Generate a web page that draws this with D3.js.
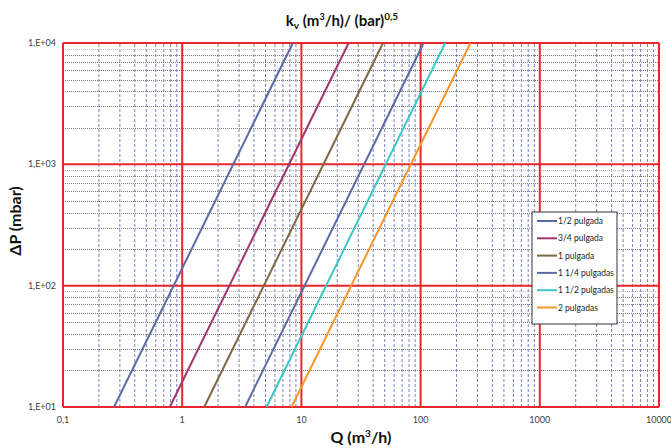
<!DOCTYPE html>
<html>
<head>
<meta charset="utf-8">
<script src="https://cdn.jsdelivr.net/npm/d3@7"></script>
<style>
  body { margin: 0; background: #fff; }
  svg { font-family: Lato, "Open Sans", sans-serif; }
</style>
</head>
<body>
<svg id="chart" width="671" height="448"></svg>
<script>
// series: Q (m3/h) at 10 mbar and at 10000 mbar
const seriesNames = ["1/2 pulgada", "3/4 pulgada", "1 pulgada", "1 1/4 pulgadas", "1 1/2 pulgadas", "2 pulgadas"];
const seriesColors = ["#5e6aa6", "#a0376f", "#7e6845", "#5e6aa6", "#3ec6c8", "#f7962c"];
const dpEnds = [10, 10000];
const qAtLow = [0.268, 0.787, 1.53, 3.37, 5.10, 8.27];
const qAtHigh = [8.48, 24.9, 48.4, 106, 161, 262];

const xTicks = [0.1, 1, 10, 100, 1000, 10000];
const xTickLabels = ["0,1", "1", "10", "100", "1000", "10000"];
const yTicks = [10, 100, 1000, 10000];
const yTickLabels = ["1,E+01", "1,E+02", "1,E+03", "1,E+04"];

const svg = d3.select("svg#chart");
const margin = { left: 63, right: 12, top: 43, bottom: 41 };
const width = 671, height = 448;

const x = d3.scaleLog().domain([0.1, 10000]).range([margin.left, width - margin.right]);
const y = d3.scaleLog().domain([10, 10000]).range([height - margin.bottom, margin.top]);

// minor values inside each decade
const minor = (lo, hi) => {
  const out = [];
  for (let d = lo; d < hi; d *= 10) for (let k = 2; k <= 9; k++) out.push(d * k);
  return out;
};

const grid = svg.append("g");
grid.selectAll("line.vminor")
  .data(minor(0.1, 10000))
  .join("line")
  .attr("x1", d => x(d)).attr("x2", d => x(d))
  .attr("y1", y(10)).attr("y2", y(10000))
  .attr("stroke", "#7b84bb")
  .attr("stroke-width", 1)
  .attr("stroke-dasharray", "3,2");

grid.selectAll("line.hminor")
  .data(minor(10, 10000))
  .join("line")
  .attr("x1", x(0.1)).attr("x2", x(10000))
  .attr("y1", d => Math.round(y(d)) + 0.5).attr("y2", d => Math.round(y(d)) + 0.5)
  .attr("stroke", d => (String(d)[0] === "9" ? "#bbbbbb" : "#7a7a7a"))
  .attr("stroke-width", 1)
  .attr("stroke-dasharray", "1,1");

grid.selectAll("line.vmajor")
  .data(xTicks)
  .join("line")
  .attr("x1", d => x(d)).attr("x2", d => x(d))
  .attr("y1", y(10)).attr("y2", y(10000))
  .attr("stroke", "#e8262b")
  .attr("stroke-width", 2);

grid.selectAll("line.hmajor")
  .data(yTicks)
  .join("line")
  .attr("x1", x(0.1)).attr("x2", x(10000))
  .attr("y1", d => y(d)).attr("y2", d => y(d))
  .attr("stroke", "#e8262b")
  .attr("stroke-width", 2);

// tick labels
svg.append("g")
  .selectAll("text")
  .data(xTicks)
  .join("text")
  .attr("x", d => x(d))
  .attr("y", 423)
  .attr("text-anchor", "middle")
  .attr("font-size", 9)
  .attr("fill", "#404040")
  .text((d, i) => xTickLabels[i]);

svg.append("g")
  .selectAll("text")
  .data(yTicks)
  .join("text")
  .attr("x", 56)
  .attr("y", d => y(d) + 3)
  .attr("text-anchor", "end")
  .attr("font-size", 9)
  .attr("fill", "#404040")
  .text((d, i) => yTickLabels[i]);

// series lines
const series = seriesNames.map((name, i) => ({
  name,
  color: seriesColors[i],
  points: [[qAtLow[i], dpEnds[0]], [qAtHigh[i], dpEnds[1]]]
}));

const line = d3.line().x(d => x(d[0])).y(d => y(d[1]));

svg.append("g")
  .selectAll("path")
  .data(series)
  .join("path")
  .attr("d", d => line(d.points))
  .attr("fill", "none")
  .attr("stroke", d => d.color)
  .attr("stroke-width", 2);

// legend
const legend = svg.append("g").attr("transform", "translate(532,212)");
legend.append("rect")
  .attr("width", 85).attr("height", 112)
  .attr("fill", "#fff")
  .attr("stroke", "#333")
  .attr("stroke-width", 1);
const item = legend.selectAll("g")
  .data(series)
  .join("g")
  .attr("transform", (d, i) => `translate(0,${9 + i * 17.3})`);
item.append("line")
  .attr("x1", 5).attr("x2", 25)
  .attr("stroke", d => d.color)
  .attr("stroke-width", 2);
item.append("text")
  .attr("x", 26).attr("y", 3)
  .attr("font-size", 8.5)
  .attr("fill", "#222")
  .text(d => d.name);

// titles
const title = svg.append("text")
  .attr("x", 342).attr("y", 26)
  .attr("text-anchor", "middle")
  .attr("font-size", 15)
  .attr("font-weight", "bold")
  .attr("fill", "#111");
title.append("tspan").text("k");
title.append("tspan").attr("font-size", 10).attr("dy", 3).text("v");
title.append("tspan").attr("dy", -3).text(" (m");
title.append("tspan").attr("font-size", 9).attr("dy", -6).text("3");
title.append("tspan").attr("dy", 6).text("/h)/ (bar)");
title.append("tspan").attr("font-size", 10).attr("dy", -6).text("0,5");

const xTitle = svg.append("text")
  .attr("x", 361).attr("y", 443)
  .attr("text-anchor", "middle")
  .attr("font-size", 16)
  .attr("font-weight", "bold")
  .attr("fill", "#111");
xTitle.append("tspan").text("Q (m");
xTitle.append("tspan").attr("font-size", 10).attr("dy", -6).text("3");
xTitle.append("tspan").attr("dy", 6).text("/h)");

svg.append("text")
  .attr("transform", "translate(21,221) rotate(-90)")
  .attr("text-anchor", "middle")
  .attr("font-size", 16)
  .attr("font-weight", "bold")
  .attr("fill", "#111")
  .text("ΔP (mbar)");
</script>
</body>
</html>
